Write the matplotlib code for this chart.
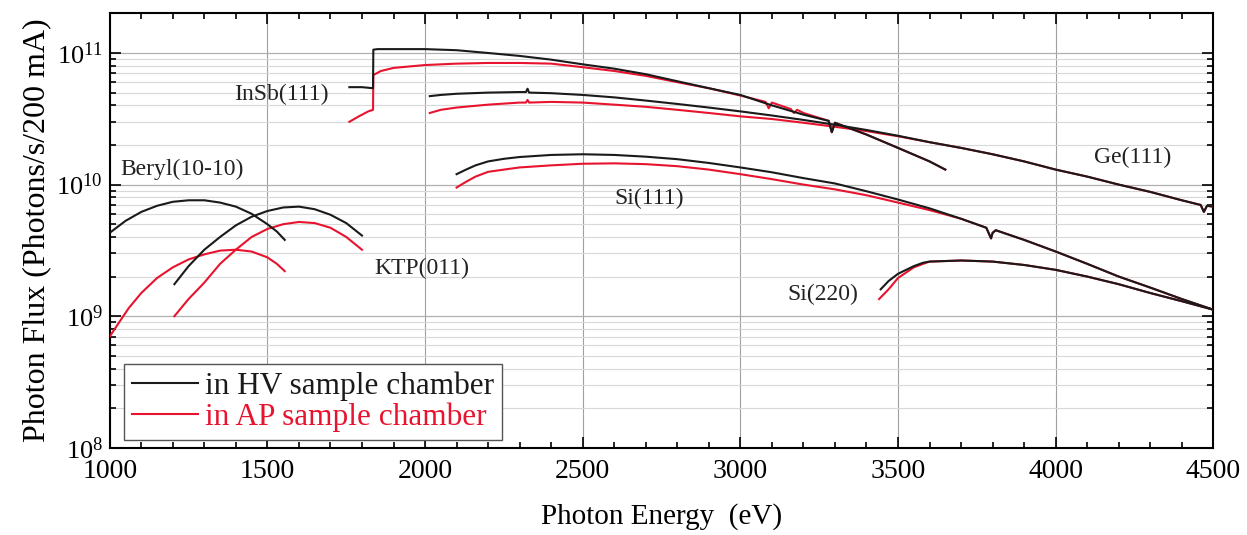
"""Photon flux vs photon energy for the crystal monochromator sets."""
import matplotlib
matplotlib.use("Agg")
import matplotlib.pyplot as plt
from matplotlib.ticker import MultipleLocator, LogLocator, NullFormatter

plt.rcParams['font.family'] = ['Liberation Serif', 'DejaVu Serif']
plt.rcParams['mathtext.fontset'] = 'stix'

BLACK = '#1a1a1a'
RED = '#e8132e'

# Beryl(10-10)
beryl_x = [1000, 1050, 1100, 1150, 1200, 1250, 1300, 1350, 1400, 1450, 1500, 1530, 1555]
beryl_hv = [4.3e9, 5.3e9, 6.2e9, 6.9e9, 7.4e9, 7.6e9, 7.6e9, 7.3e9, 6.8e9, 6.0e9, 5.0e9, 4.4e9, 3.8e9]
beryl_ap_x = [1000, 1030, 1060, 1100, 1150, 1200, 1250, 1300, 1350, 1400, 1450, 1500, 1530, 1555]
beryl_ap = [7.0e8, 9.0e8, 1.15e9, 1.5e9, 1.95e9, 2.35e9, 2.7e9, 2.95e9, 3.15e9, 3.2e9, 3.1e9, 2.8e9, 2.5e9, 2.2e9]

# KTP(011)
ktp_x = [1205, 1250, 1300, 1350, 1400, 1450, 1500, 1550, 1600, 1650, 1700, 1750, 1800]
ktp_hv = [1.75e9, 2.4e9, 3.2e9, 4.0e9, 4.9e9, 5.7e9, 6.3e9, 6.7e9, 6.8e9, 6.5e9, 5.9e9, 5.1e9, 4.1e9]
ktp_ap = [1.0e9, 1.35e9, 1.8e9, 2.5e9, 3.2e9, 4.0e9, 4.6e9, 5.0e9, 5.2e9, 5.1e9, 4.7e9, 4.0e9, 3.2e9]

# InSb(111)
insb_hv_x = [1760, 1800, 1835, 1836, 1850, 1900, 2000, 2100, 2200, 2300, 2400, 2500, 2600, 2700,
             2800, 2900, 3000, 3100, 3200, 3280, 3290, 3300, 3400, 3500, 3600, 3650]
insb_hv = [5.5e10, 5.5e10, 5.4e10, 1.06e11, 1.07e11, 1.07e11, 1.07e11, 1.05e11, 1.0e11, 9.5e10,
           8.9e10, 8.2e10, 7.6e10, 6.9e10, 6.1e10, 5.4e10, 4.8e10, 4.0e10, 3.4e10, 3.05e10,
           2.5e10, 2.95e10, 2.4e10, 1.9e10, 1.5e10, 1.3e10]
insb_ap_x = [1760, 1790, 1820, 1835, 1836, 1860, 1900, 2000, 2100, 2200, 2300, 2400, 2500, 2600,
             2700, 2800, 2900, 3000, 3080, 3090, 3100, 3160, 3170, 3180, 3200, 3280, 3290, 3300,
             3400, 3500, 3600, 3650]
insb_ap = [3.0e10, 3.3e10, 3.6e10, 3.7e10, 6.8e10, 7.3e10, 7.7e10, 8.1e10, 8.3e10, 8.4e10, 8.4e10,
           8.3e10, 7.8e10, 7.3e10, 6.7e10, 6.0e10, 5.4e10, 4.75e10, 4.25e10, 3.8e10, 4.2e10,
           3.75e10, 3.5e10, 3.7e10, 3.5e10, 3.05e10, 2.5e10, 2.95e10, 2.4e10, 1.9e10, 1.5e10, 1.3e10]

# Ge(111)
ge_x = [2015, 2050, 2100, 2200, 2300, 2320, 2325, 2330, 2400, 2500, 2600, 2700, 2800, 2900, 3000,
        3100, 3200, 3300, 3400, 3500, 3600, 3700, 3800, 3900, 4000, 4100, 4200, 4300, 4400, 4460,
        4470, 4480, 4500]
ge_hv = [4.7e10, 4.8e10, 4.9e10, 5.0e10, 5.05e10, 5.05e10, 5.35e10, 5.0e10, 4.95e10, 4.8e10, 4.6e10,
         4.35e10, 4.1e10, 3.85e10, 3.6e10, 3.35e10, 3.1e10, 2.85e10, 2.6e10, 2.35e10, 2.1e10, 1.9e10,
         1.7e10, 1.5e10, 1.3e10, 1.15e10, 1.0e10, 8.8e9, 7.6e9, 7.0e9, 6.2e9, 6.9e9, 6.8e9]
ge_ap = [3.5e10, 3.7e10, 3.85e10, 4.05e10, 4.2e10, 4.2e10, 4.4e10, 4.2e10, 4.25e10, 4.2e10, 4.05e10,
         3.9e10, 3.7e10, 3.5e10, 3.3e10, 3.15e10, 2.95e10, 2.75e10, 2.55e10, 2.33e10, 2.1e10, 1.9e10,
         1.7e10, 1.5e10, 1.3e10, 1.15e10, 1.0e10, 8.8e9, 7.6e9, 7.0e9, 6.2e9, 6.9e9, 6.8e9]

# Si(111)
si111_x = [2100, 2130, 2160, 2200, 2250, 2300, 2400, 2500, 2600, 2700, 2800, 2900, 3000, 3100, 3200,
           3300, 3400, 3500, 3600, 3700, 3780, 3795, 3800, 3810, 3900, 4000, 4100, 4200, 4300, 4400,
           4500]
si111_hv = [1.2e10, 1.3e10, 1.4e10, 1.5e10, 1.57e10, 1.62e10, 1.68e10, 1.7e10, 1.68e10, 1.63e10,
            1.56e10, 1.46e10, 1.35e10, 1.24e10, 1.12e10, 1.02e10, 8.9e9, 7.7e9, 6.6e9, 5.5e9, 4.7e9,
            3.9e9, 4.3e9, 4.5e9, 3.8e9, 3.1e9, 2.5e9, 2.0e9, 1.65e9, 1.35e9, 1.12e9]
si111_ap = [9.5e9, 1.05e10, 1.15e10, 1.25e10, 1.3e10, 1.35e10, 1.4e10, 1.44e10, 1.45e10, 1.43e10,
            1.38e10, 1.3e10, 1.2e10, 1.1e10, 1.0e10, 9.2e9, 8.3e9, 7.3e9, 6.4e9, 5.5e9, 4.7e9,
            3.9e9, 4.3e9, 4.5e9, 3.8e9, 3.1e9, 2.5e9, 2.0e9, 1.65e9, 1.35e9, 1.12e9]

# Si(220)
si220_hv_x = [3445, 3470, 3500, 3550, 3580, 3600, 3700, 3800, 3900, 4000, 4100, 4200, 4300, 4400, 4500]
si220_hv = [1.6e9, 1.85e9, 2.1e9, 2.4e9, 2.55e9, 2.6e9, 2.65e9, 2.6e9, 2.45e9, 2.25e9, 2.0e9, 1.75e9,
            1.5e9, 1.3e9, 1.12e9]
si220_ap_x = [3440, 3470, 3500, 3550, 3580, 3600, 3700, 3800, 3900, 4000, 4100, 4200, 4300, 4400, 4500]
si220_ap = [1.35e9, 1.6e9, 1.95e9, 2.35e9, 2.5e9, 2.6e9, 2.65e9, 2.6e9, 2.45e9, 2.25e9, 2.0e9, 1.75e9,
            1.5e9, 1.3e9, 1.12e9]

labels = ['InSb(111)', 'Beryl(10-10)', 'KTP(011)', 'Si(111)', 'Si(220)', 'Ge(111)']
label_pos = [(1545, 4.8e10), (1035, 1.3e10), (1840, 2.3e9), (2600, 7.9e9), (3150, 1.46e9), (4120, 1.62e10)]
label_ha = ['center', 'left', 'left', 'left', 'left', 'left']

fig = plt.figure(figsize=(12.47, 5.35), dpi=100)
ax = fig.add_axes([0.088, 0.163, 0.885, 0.812])

hv = [(beryl_x, beryl_hv), (ktp_x, ktp_hv), (insb_hv_x, insb_hv), (ge_x, ge_hv),
      (si111_x, si111_hv), (si220_hv_x, si220_hv)]
ap = [(beryl_ap_x, beryl_ap), (ktp_x, ktp_ap), (insb_ap_x, insb_ap), (ge_x, ge_ap),
      (si111_x, si111_ap), (si220_ap_x, si220_ap)]

for i, (x, y) in enumerate(ap):
    ax.plot(x, y, color=RED, lw=1.5, label='in AP sample chamber' if i == 0 else None, zorder=3)
for i, (x, y) in enumerate(hv):
    ax.plot(x, y, color=BLACK, lw=1.5, label='in HV sample chamber' if i == 0 else None, zorder=4)

for txt, (tx, ty), ha in zip(labels, label_pos, label_ha):
    ax.text(tx, ty, txt, fontsize=17, ha=ha, va='center', color='#222222')

ax.set_yscale('log')
ax.set_xlim(1000, 4500)
ax.set_ylim(1e8, 2e11)
ax.xaxis.set_major_locator(MultipleLocator(500))
ax.xaxis.set_minor_locator(MultipleLocator(100))
ax.yaxis.set_major_locator(LogLocator(base=10, numticks=10))
ax.yaxis.set_minor_locator(LogLocator(base=10, subs=range(2, 10), numticks=20))
ax.yaxis.set_minor_formatter(NullFormatter())

ax.grid(True, which='major', axis='x', color='#a0a0a0', lw=0.8)
ax.grid(True, which='major', axis='y', color='#b0b0b0', lw=0.9)
ax.grid(True, which='minor', axis='y', color='#d8d8d8', lw=0.8)
ax.set_axisbelow(True)

ax.tick_params(which='both', direction='in', top=True, right=True, width=1.2)
ax.tick_params(which='major', length=8)
ax.tick_params(which='minor', length=4)
ax.tick_params(axis='x', labelsize=20, pad=8)
ax.tick_params(axis='y', labelsize=19, pad=5)
for s in ax.spines.values():
    s.set_linewidth(1.5)

ax.set_xlabel('Photon Energy  (eV)', fontsize=21, labelpad=14)
ax.set_ylabel('Photon Flux (Photons/s/200 mA)', fontsize=23, labelpad=4)

handles, lbls = ax.get_legend_handles_labels()
order = [lbls.index('in HV sample chamber'), lbls.index('in AP sample chamber')]
leg = ax.legend([handles[i] for i in order], [lbls[i] for i in order],
                loc='lower left', bbox_to_anchor=(0.013, 0.018), borderaxespad=0,
                fontsize=22.5, fancybox=False, framealpha=1, edgecolor='#555555',
                handlelength=2.1, handletextpad=0.25, borderpad=0.25, labelspacing=0.05,
                labelcolor='linecolor')
leg.get_frame().set_linewidth(1.0)

fig.savefig('out.png', dpi=100)
